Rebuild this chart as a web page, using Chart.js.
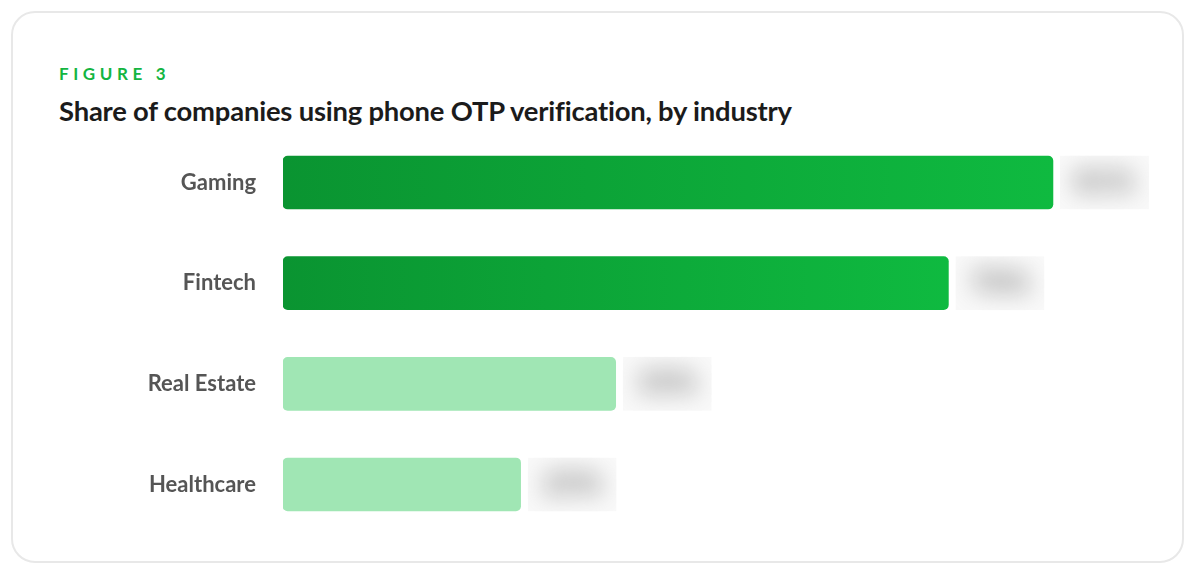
<!DOCTYPE html>
<html>
<head>
<meta charset="utf-8">
<script src="https://cdn.jsdelivr.net/npm/chart.js@4"></script>
<style>
  body { margin: 0; background: #fff; font-family: Lato, "Noto Sans", sans-serif; }
  .card {
    position: absolute; left: 11px; top: 11px; width: 1169px; height: 548px;
    border: 2px solid #e8e8e8; border-radius: 24px; background: #fff;
  }
  .fig {
    position: absolute; left: 59px; top: 63px; margin: 0;
    font-size: 17px; font-weight: 700; letter-spacing: 4.6px; color: #13b541;
  }
  .title {
    position: absolute; left: 59px; top: 94px; margin: 0;
    font-size: 27.4px; font-weight: 700; color: #1b1b1b; letter-spacing: -0.2px;
  }
  .chartBox { position: absolute; left: 0; top: 92px; width: 1193px; height: 483px; }
</style>
</head>
<body>
<div class="card"></div>
<p class="fig">FIGURE 3</p>
<p class="title">Share of companies using phone OTP verification, by industry</p>
<div class="chartBox"><canvas id="myChart"></canvas></div>
<script>
const industries = ['Gaming', 'Fintech', 'Real Estate', 'Healthcare'];
const shares = [81, 70, 35, 25];
const featured = ['Gaming', 'Fintech'];

// gradient runs along each bar, from the zero line to its end
function barColor(ctx) {
  const chart = ctx.chart;
  const name = industries[ctx.dataIndex];
  if (featured.indexOf(name) < 0) return '#a0e6b4';
  const xs = chart.scales.x;
  if (!chart.chartArea || !xs) return '#0ea83a';
  const x0 = xs.getPixelForValue(0);
  const x1 = xs.getPixelForValue(shares[ctx.dataIndex]);
  const g = chart.ctx.createLinearGradient(x0, 0, x1, 0);
  g.addColorStop(0, '#0a9431');
  g.addColorStop(1, '#0fba40');
  return g;
}

// value labels are blurred out in the original figure
const blurredLabels = {
  id: 'blurredLabels',
  afterDatasetsDraw(chart) {
    const c = chart.ctx;
    chart.getDatasetMeta(0).data.forEach(function(bar, i) {
      const left = bar.x + 7, top = bar.y - 27, w = 89, h = 54;
      c.save();
      c.beginPath();
      c.rect(left, top, w, h);
      c.clip();
      c.fillStyle = '#f9f9f9';
      c.fillRect(left, top, w, h);
      c.filter = 'blur(12px)';
      c.fillStyle = '#6f6f6f';
      c.font = 'bold 30px Lato';
      c.textAlign = 'center';
      c.textBaseline = 'middle';
      c.fillText(shares[i] + '%', left + w / 2, bar.y);
      c.restore();
    });
  }
};

var ctx = document.getElementById('myChart').getContext('2d');
var myChart = new Chart(ctx, {
  type: 'bar',
  data: {
    labels: industries,
    datasets: [{
      data: shares,
      backgroundColor: barColor,
      borderRadius: 5,
      borderSkipped: false,
      barThickness: 53
    }]
  },
  options: {
    indexAxis: 'y',
    responsive: true,
    maintainAspectRatio: false,
    animation: false,
    layout: { padding: { left: 0, right: 45, top: 0, bottom: 0 } },
    scales: {
      x: {
        display: false,
        min: 0,
        max: 91
      },
      y: {
        grid: { display: false, drawTicks: false },
        border: { display: false },
        ticks: {
          color: '#555555',
          padding: 27,
          font: { family: 'Lato', size: 22, weight: 'bold' }
        },
        afterFit: function(scale) { scale.width = 283; }
      }
    },
    plugins: {
      legend: { display: false },
      tooltip: { enabled: false }
    }
  },
  plugins: [blurredLabels]
});
</script>
</body>
</html>
